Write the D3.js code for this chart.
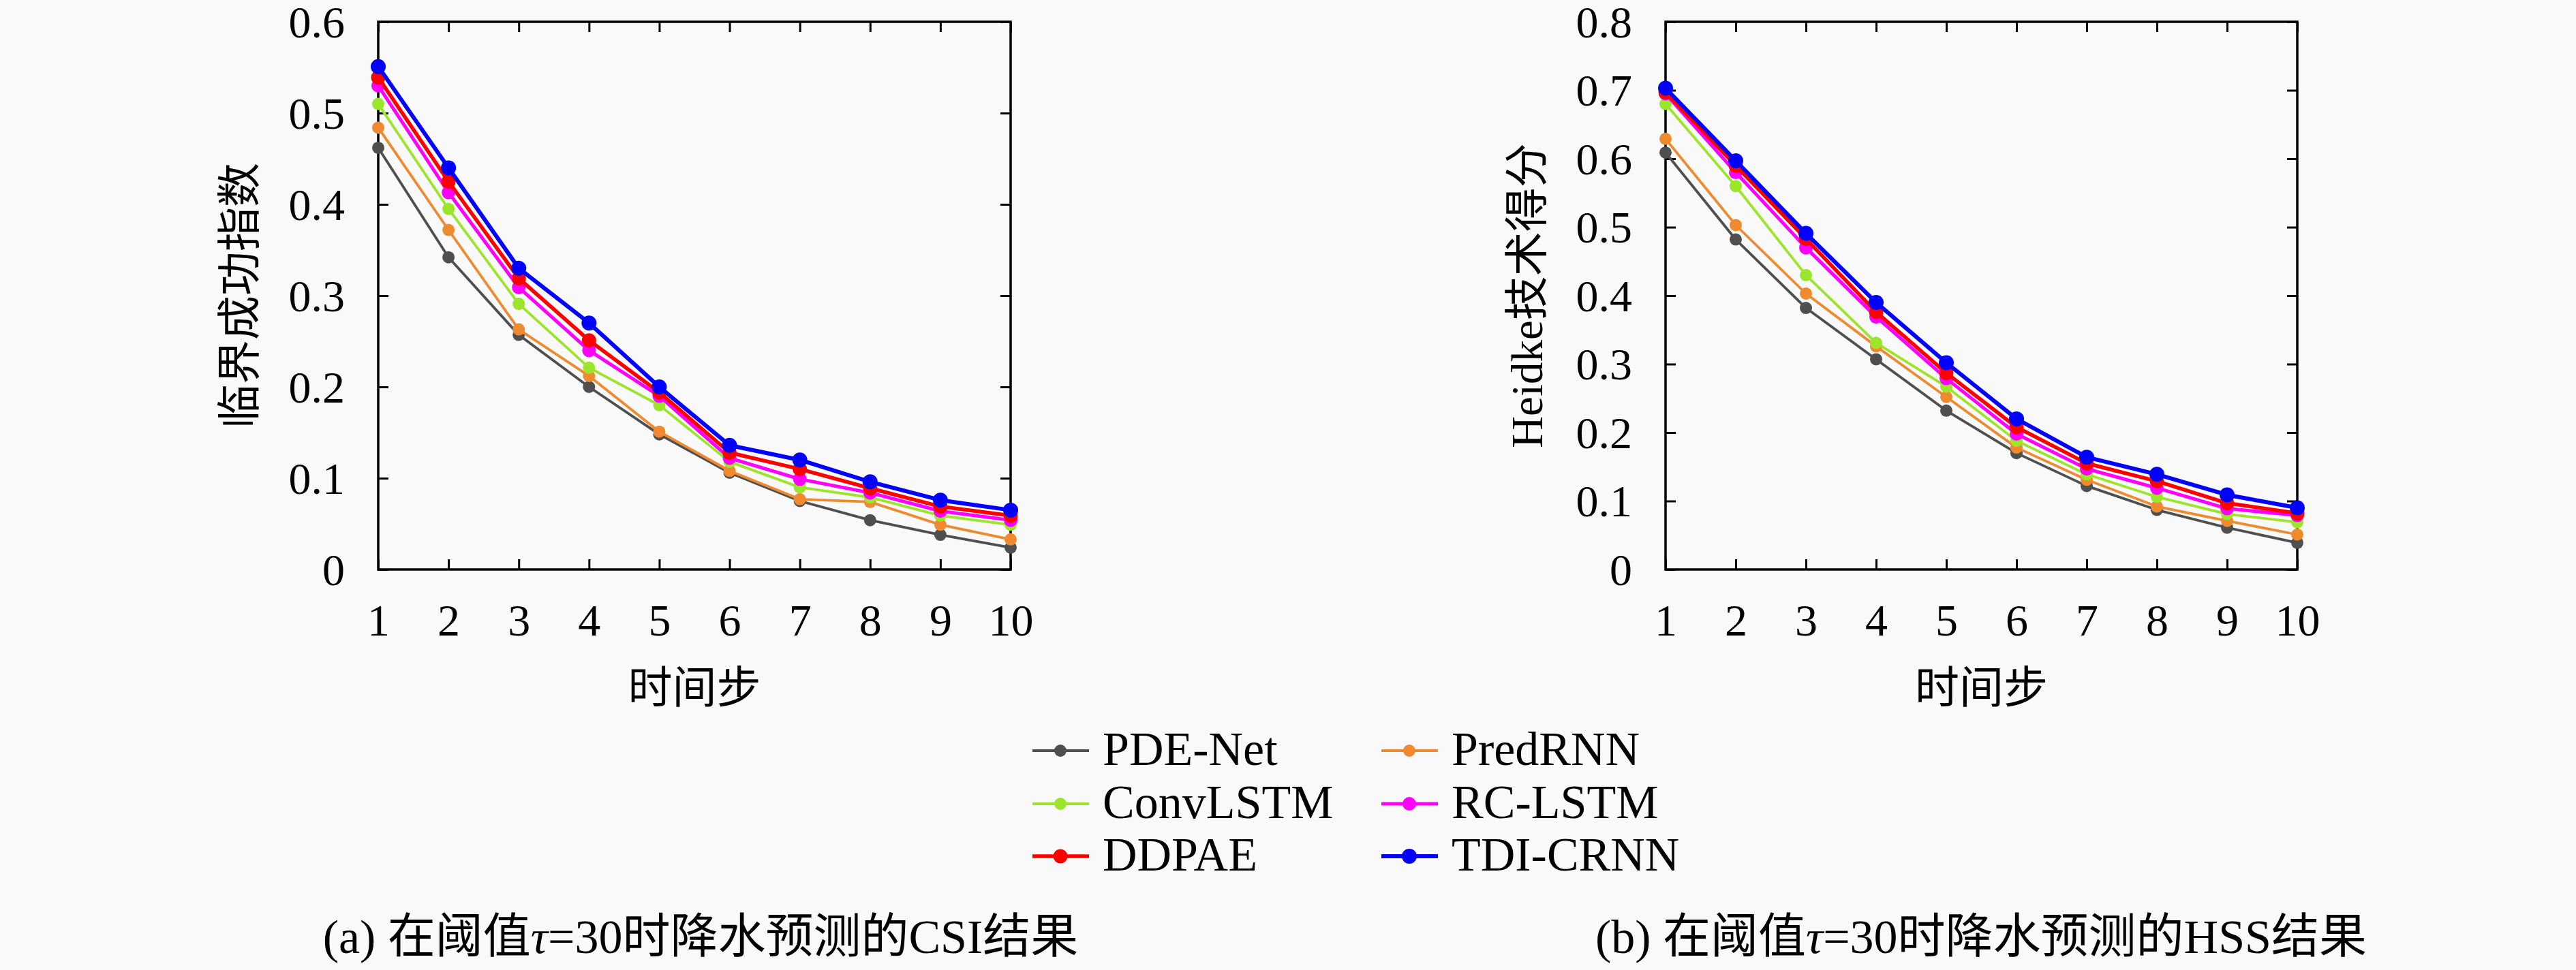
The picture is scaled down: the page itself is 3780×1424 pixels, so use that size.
<!DOCTYPE html>
<html>
<head>
<meta charset="utf-8">
<script src="https://cdn.jsdelivr.net/npm/d3@7"></script>
<style>
  html, body { margin: 0; padding: 0; background: #f9f9f9; }
  svg { display: block; }
</style>
</head>
<body>
<svg id="chart" width="3780" height="1424"></svg>
<script>
// ---------------- data ----------------
const steps = [1, 2, 3, 4, 5, 6, 7, 8, 9, 10];
const seriesNames = ["PDE-Net", "PredRNN", "ConvLSTM", "RC-LSTM", "DDPAE", "TDI-CRNN"];

// CSI at threshold 30
const csiPDENet   = [0.462, 0.342, 0.257, 0.200, 0.148, 0.106, 0.075, 0.054, 0.038, 0.024];
const csiPredRNN  = [0.484, 0.372, 0.263, 0.212, 0.151, 0.108, 0.077, 0.074, 0.049, 0.033];
const csiConvLSTM = [0.510, 0.395, 0.291, 0.221, 0.180, 0.118, 0.090, 0.079, 0.059, 0.049];
const csiRCLSTM   = [0.530, 0.413, 0.309, 0.240, 0.190, 0.122, 0.099, 0.084, 0.064, 0.054];
const csiDDPAE    = [0.539, 0.425, 0.319, 0.251, 0.194, 0.128, 0.110, 0.089, 0.069, 0.059];
const csiTDICRNN  = [0.551, 0.440, 0.330, 0.270, 0.200, 0.136, 0.120, 0.096, 0.076, 0.065];

// HSS at threshold 30
const hssPDENet   = [0.609, 0.482, 0.382, 0.307, 0.232, 0.170, 0.122, 0.087, 0.061, 0.039];
const hssPredRNN  = [0.629, 0.503, 0.403, 0.326, 0.252, 0.178, 0.131, 0.092, 0.071, 0.051];
const hssConvLSTM = [0.680, 0.560, 0.430, 0.331, 0.267, 0.188, 0.139, 0.106, 0.081, 0.069];
const hssRCLSTM   = [0.695, 0.580, 0.470, 0.369, 0.279, 0.198, 0.147, 0.119, 0.089, 0.079];
const hssDDPAE    = [0.697, 0.590, 0.483, 0.376, 0.287, 0.208, 0.155, 0.129, 0.097, 0.082];
const hssTDICRNN  = [0.703, 0.597, 0.491, 0.390, 0.302, 0.220, 0.164, 0.139, 0.109, 0.090];

const csiTicks = [0, 0.1, 0.2, 0.3, 0.4, 0.5, 0.6];
const hssTicks = [0, 0.1, 0.2, 0.3, 0.4, 0.5, 0.6, 0.7, 0.8];

const xLabel = "时间步";
const csiYLabel = "临界成功指数";
const hssYLabel = "Heidke技术得分";

// ---------------- styles ----------------
const seriesColors = ["#4f4f4f", "#f08a2e", "#9be52a", "#ff00ff", "#ff0000", "#0000ff"];
const seriesWidths = [3.8, 3.8, 3.8, 5, 5.5, 6];
const seriesRadius = [9, 9, 9, 10, 10.5, 11];
const latin = "'Liberation Serif', 'DejaVu Serif', 'Noto Sans CJK SC', serif";

const svg = d3.select("#chart");
svg.append("rect").attr("width", 3780).attr("height", 1424).attr("fill", "#f9f9f9");

function drawPanel(opts) {
  const { left, right, top, bottom, yMax, yTicks, data, yLabel, yLabelX } = opts;
  const x = d3.scaleLinear().domain([1, 10]).range([left, right]);
  const y = d3.scaleLinear().domain([0, yMax]).range([bottom, top]);
  const g = svg.append("g");

  const tickLen = 15;
  // axes with inward ticks on all four sides
  const axB = g.append("g").attr("transform", `translate(0,${bottom})`)
    .call(d3.axisBottom(x).tickValues(steps).tickSize(-tickLen).tickFormat(d3.format("d")));
  const axT = g.append("g").attr("transform", `translate(0,${top})`)
    .call(d3.axisTop(x).tickValues(steps).tickSize(-tickLen).tickFormat(""));
  const axL = g.append("g").attr("transform", `translate(${left},0)`)
    .call(d3.axisLeft(y).tickValues(yTicks).tickSize(-tickLen).tickFormat(d => d === 0 ? "0" : d3.format(".1f")(d)));
  const axR = g.append("g").attr("transform", `translate(${right},0)`)
    .call(d3.axisRight(y).tickValues(yTicks).tickSize(-tickLen).tickFormat(""));

  [axB, axT, axL, axR].forEach(a => {
    a.select(".domain").remove();
    a.selectAll(".tick line").attr("stroke", "#000").attr("stroke-width", 3);
    a.selectAll(".tick text").attr("fill", "#000").style("font-family", latin).style("font-size", "66px");
  });
  axB.selectAll(".tick text").attr("dy", null).attr("y", 933 - bottom);
  axL.selectAll(".tick text").attr("dy", null).attr("x", -49).attr("y", 22);

  // frame
  g.append("rect").attr("x", left).attr("y", top).attr("width", right - left).attr("height", bottom - top)
    .attr("fill", "none").attr("stroke", "#000").attr("stroke-width", 3.5);

  // series
  const line = d3.line().x((d, i) => x(steps[i])).y(d => y(d));
  data.forEach((vals, k) => {
    const s = g.append("g");
    s.append("path").datum(vals).attr("d", line).attr("fill", "none")
      .attr("stroke", seriesColors[k]).attr("stroke-width", seriesWidths[k]).attr("stroke-linejoin", "round");
    s.selectAll("circle").data(vals).join("circle")
      .attr("cx", (d, i) => x(steps[i])).attr("cy", d => y(d)).attr("r", seriesRadius[k])
      .attr("fill", seriesColors[k]);
  });

  // x label
  g.append("text").attr("x", (left + right) / 2).attr("y", 1010).attr("text-anchor", "middle")
    .attr("dominant-baseline", "central").style("font-family", latin).style("font-size", "65px").text(xLabel);
  // y label
  g.append("text").attr("transform", `translate(${yLabelX},${(top + bottom) / 2}) rotate(-90)`)
    .attr("text-anchor", "middle").attr("dominant-baseline", "central")
    .style("font-family", latin).style("font-size", "65px").text(yLabel);
}

drawPanel({
  left: 555, right: 1483, top: 32, bottom: 836, yMax: 0.6, yTicks: csiTicks,
  data: [csiPDENet, csiPredRNN, csiConvLSTM, csiRCLSTM, csiDDPAE, csiTDICRNN],
  yLabel: csiYLabel, yLabelX: 352
});
drawPanel({
  left: 2444, right: 3371, top: 32, bottom: 836, yMax: 0.8, yTicks: hssTicks,
  data: [hssPDENet, hssPredRNN, hssConvLSTM, hssRCLSTM, hssDDPAE, hssTDICRNN],
  yLabel: hssYLabel, yLabelX: 2241
});

// legend (2 columns, row-major)
const legCols = [1515, 2027];
const legRows = [1102, 1180, 1257];
const legend = svg.append("g");
seriesNames.forEach((name, k) => {
  const cx = legCols[k % 2], cy = legRows[Math.floor(k / 2)];
  legend.append("line").attr("x1", cx).attr("x2", cx + 83).attr("y1", cy).attr("y2", cy)
    .attr("stroke", seriesColors[k]).attr("stroke-width", seriesWidths[k]);
  legend.append("circle").attr("cx", cx + 41).attr("cy", cy).attr("r", seriesRadius[k]).attr("fill", seriesColors[k]);
  legend.append("text").attr("x", cx + 103).attr("y", cy + 21)
    .style("font-family", latin).style("font-size", "70px").text(name);
});

// captions
const captions = [
  { cx: 1028, pre: "(a) 在阈值", post: "=30时降水预测的CSI结果" },
  { cx: 2907, pre: "(b) 在阈值", post: "=30时降水预测的HSS结果" }
];
captions.forEach(c => {
  const t = svg.append("text").attr("x", c.cx).attr("y", 1399).attr("text-anchor", "middle")
    .style("font-family", latin).style("font-size", "70px");
  t.append("tspan").text(c.pre);
  t.append("tspan").style("font-style", "italic").text("τ");
  t.append("tspan").text(c.post);
});
</script>
</body>
</html>
